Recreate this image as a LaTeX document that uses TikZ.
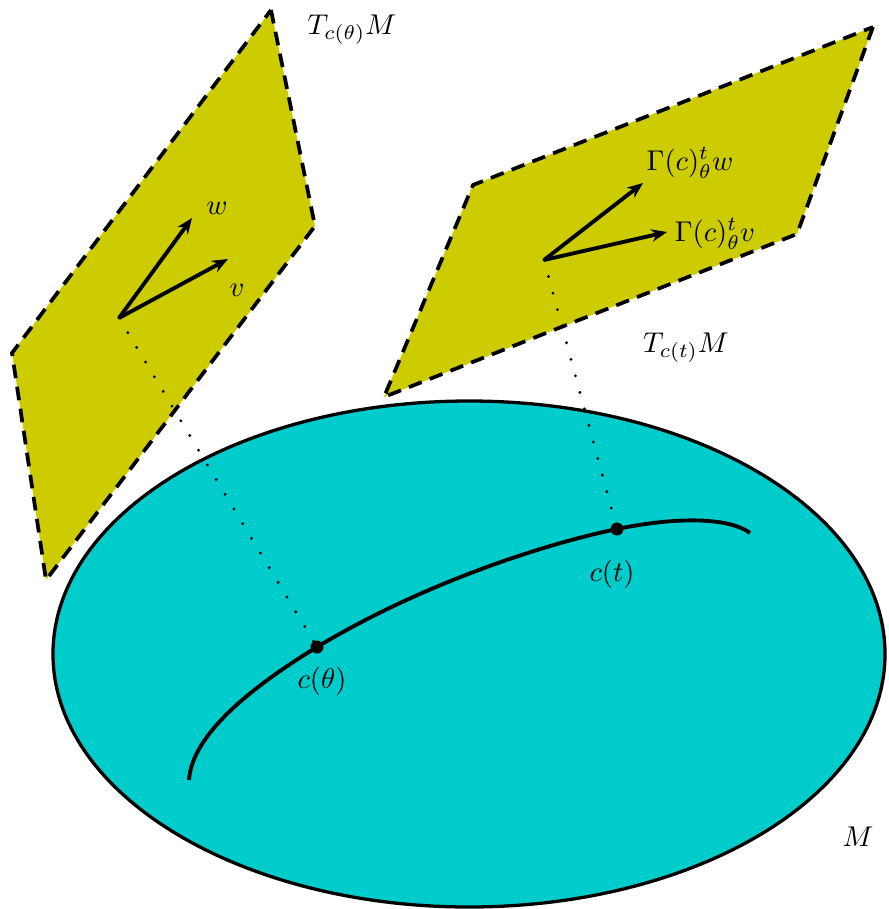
\documentclass[tikz,border=0pt]{standalone}
\usetikzlibrary{arrows.meta}
\definecolor{planeyellow}{RGB}{204,204,0}
\definecolor{manifoldcyan}{RGB}{0,204,204}
\begin{document}
\begin{tikzpicture}[x=0.35pt,y=-0.35pt,
  planestyle/.style={fill=planeyellow,draw=black,line width=1.3pt,dash pattern=on 4.8pt off 3pt,line join=miter},
  vecstyle/.style={line width=1.35pt,-{Stealth[length=5.5pt,width=4.4pt]}},
  dotline/.style={line width=1.1pt,line cap=round,dash pattern=on 0pt off 6pt},
  ptstyle/.style={fill=black},
  lbl/.style={inner sep=0pt}]
\useasboundingbox (0,0) rectangle (889,909);
% manifold
\draw[fill=manifoldcyan,line width=1.15pt] (469,654) ellipse [x radius=416, y radius=253];
% tangent planes
\draw[planestyle] (271,10) -- (315,226) -- (46,580) -- (12,353) -- cycle;
\draw[planestyle] (873,27) -- (797,234) -- (384,397) -- (473,185) -- cycle;
% coordinates
\coordinate (o1) at (119,318);
\coordinate (o2) at (544,260);
\coordinate (ctheta) at (317,647);
\coordinate (ct) at (617,529);
\coordinate (w1) at (192,218);
\coordinate (v1) at (228,259);
\coordinate (w2) at (643,183);
\coordinate (v2) at (667,232);
\coordinate (cs) at (189,780);
\coordinate (ce) at (750,533);
% dotted links
\draw[dotline] (o1) -- (ctheta);
\draw[dotline] (o2) -- (ct);
% curve
\draw[line width=1.35pt] (cs) .. controls (192,735) and (250,688) .. (ctheta)
  .. controls (420,585) and (540,545) .. (ct)
  .. controls (680,516) and (730,518) .. (ce);
\fill[ptstyle] (ctheta) circle [radius=6.5];
\fill[ptstyle] (ct) circle [radius=6.5];
% vectors
\draw[vecstyle] (o1) -- (w1);
\draw[vecstyle] (o1) -- (v1);
\draw[vecstyle] (o2) -- (w2);
\draw[vecstyle] (o2) -- (v2);
% labels
\node[lbl] (lTtheta) at (352,30) {$T_{c(\theta)}M$};
\node[lbl] (lTt) at (686,348) {$T_{c(t)}M$};
\node[lbl] (lw) at (217,208) {$w$};
\node[lbl] (lv) at (237,290) {$v$};
\node[lbl] (lGw) at (690,163) {$\Gamma(c)^t_\theta w$};
\node[lbl] (lGv) at (715,234) {$\Gamma(c)^t_\theta v$};
\node[lbl] (lctheta) at (322,681) {$c(\theta)$};
\node[lbl] (lct) at (612,574) {$c(t)$};
\node[lbl] (lM) at (858,837) {$M$};
\end{tikzpicture}
\end{document}
